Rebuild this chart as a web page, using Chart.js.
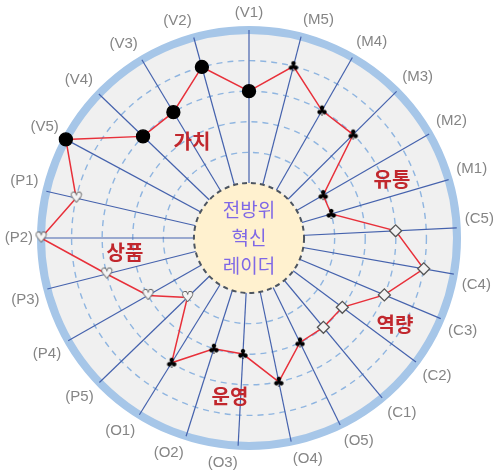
<!DOCTYPE html>
<html>
<head>
<meta charset="utf-8">
<script src="https://cdn.jsdelivr.net/npm/chart.js@4.4.1/dist/chart.umd.min.js"></script>
<style>
  html, body { margin: 0; padding: 0; background: #fff; }
  #wrap { width: 502px; height: 472px; }
</style>
</head>
<body>
<div id="wrap"><canvas id="radarChart"></canvas></div>
<script>
// 축 라벨 (맨 위 V1부터 시계방향)
const axisLabels = ['(V1)', '(M5)', '(M4)', '(M3)', '(M2)', '(M1)',
  '(C5)', '(C4)', '(C3)', '(C2)', '(C1)',
  '(O5)', '(O4)', '(O3)', '(O2)', '(O1)',
  '(P5)', '(P4)', '(P3)', '(P2)', '(P1)',
  '(V5)', '(V4)', '(V3)', '(V2)'];

// 점수 (노란 원 = 0, 바깥 원 = 5)
const scores = [3, 4, 3, 3, 1, 1,
  3, 4, 3, 2, 2,
  2, 3, 2, 2, 3,
  1, 2, 3, 5, 4,
  5, 3, 3, 4];

const groupNames = ['가치', '유통', '역량', '운영', '상품'];
const centerTitle = ['전방위', '혁신', '레이더'];

// 원본 그림은 축 간격이 고르지 않음 (도, 위에서 시계방향)
const axisDeg = [0, 14.5, 29.8, 45.2, 60, 73.7, 87.2, 100, 112.8, 126.6, 140.2,
  154, 168.3, 183, 197.6, 211.8, 226, 240.4, 255.8, 270, 283, 298.3, 313.8, 329, 344.6];
// 그룹 이름 위치 (중심에서의 px)
const groupOffsets = [[-57, -97], [143, -59], [146, 86], [-19, 158], [-124, 14]];

function symbolCanvas(ch, fill, size) {
  const c = document.createElement('canvas');
  c.width = c.height = size + 4;
  const g = c.getContext('2d');
  g.font = size + 'px "DejaVu Sans"';
  g.textAlign = 'center';
  g.textBaseline = 'middle';
  g.fillStyle = fill;
  g.fillText(ch, c.width / 2, c.height / 2 + 1);
  return c;
}
const clubImg = symbolCanvas('\u2663', '#000', 14);
const heartImg = (function () {
  const c = symbolCanvas('\u2665', '#f4f4f4', 15);
  const g = c.getContext('2d');
  g.font = '15px "DejaVu Sans"';
  g.textAlign = 'center';
  g.textBaseline = 'middle';
  g.fillStyle = '#333';
  g.fillText('\u2661', c.width / 2, c.height / 2 + 1);
  g.fillText('\u2661', c.width / 2 + 0.5, c.height / 2 + 1);
  return c;
})();

function groupOf(i) { return axisLabels[i].charAt(1); }
function markerStyle(i) {
  const k = groupOf(i);
  if (k === 'V') return 'circle';
  if (k === 'C') return 'rectRot';
  if (k === 'P') return heartImg;
  return clubImg;
}

const skewAxes = {
  id: 'skewAxes',
  beforeLayout(chart) {
    chart.scales.r.getIndexAngle = i => ((axisDeg[i] % 360) + 360) % 360 * Math.PI / 180;
  }
};

const radarDeco = {
  id: 'radarDeco',
  beforeDraw(chart) {
    const s = chart.scales.r;
    const ctx = chart.ctx;
    ctx.save();
    ctx.fillStyle = '#f0f0f0';
    ctx.beginPath();
    ctx.arc(s.xCenter, s.yCenter, s.drawingArea, 0, Math.PI * 2);
    ctx.fill();
    ctx.restore();
  },
  beforeDatasetsDraw(chart) {
    const s = chart.scales.r;
    const ctx = chart.ctx;
    const r0 = s.getDistanceFromCenterForValue(0);
    ctx.save();
    ctx.fillStyle = '#fff1cf';
    ctx.strokeStyle = '#4d5560';
    ctx.lineWidth = 2;
    ctx.setLineDash([5, 4]);
    ctx.beginPath();
    ctx.arc(s.xCenter, s.yCenter, r0, 0, Math.PI * 2);
    ctx.fill();
    ctx.stroke();
    ctx.setLineDash([]);

    ctx.fillStyle = '#7f68e6';
    ctx.font = '19px "Noto Sans CJK KR"';
    ctx.textAlign = 'center';
    ctx.textBaseline = 'middle';
    centerTitle.forEach((t, k) => {
      ctx.fillText(t, s.xCenter, s.yCenter - 28 + k * 28);
    });

    ctx.fillStyle = '#c1272d';
    ctx.font = 'bold 20px "Noto Sans CJK KR"';
    groupNames.forEach((t, k) => {
      ctx.fillText(t, s.xCenter + groupOffsets[k][0], s.yCenter + groupOffsets[k][1]);
    });
    ctx.restore();
  }
};

new Chart(document.getElementById('radarChart'), {
  type: 'radar',
  data: {
    labels: axisLabels,
    datasets: [{
      data: scores,
      borderColor: '#e8303a',
      borderWidth: 1.5,
      backgroundColor: 'rgba(0,0,0,0)',
      fill: false,
      pointStyle: ctx => markerStyle(ctx.dataIndex),
      pointRadius: ctx => groupOf(ctx.dataIndex) === 'V' ? 6.5 : 6,
      pointBackgroundColor: ctx => groupOf(ctx.dataIndex) === 'C' ? '#f2f2f2' : '#000',
      pointBorderColor: ctx => groupOf(ctx.dataIndex) === 'C' ? '#555' : '#000',
      pointBorderWidth: 1.3
    }]
  },
  options: {
    responsive: true,
    maintainAspectRatio: false,
    animation: false,
    layout: { padding: { left: 2, right: 4, top: 4, bottom: -2 } },
    plugins: {
      legend: { display: false },
      tooltip: { enabled: false }
    },
    scales: {
      r: {
        min: -1.8,
        max: 5,
        ticks: { display: false, stepSize: 1 },
        angleLines: { color: '#4562ad', lineWidth: 1.2 },
        grid: {
          circular: true,
          color: ctx => {
            const v = ctx.tick.value;
            if (v === 5) return '#a6c6e8';
            if (v >= 1) return '#8fb5e0';
            return 'rgba(0,0,0,0)';
          },
          lineWidth: ctx => ctx.tick.value === 5 ? 8 : 1.4
        },
        border: {
          dash: ctx => ctx.tick.value === 5 ? [] : [6, 5]
        },
        pointLabels: {
          color: '#858585',
          padding: 8,
          font: { family: '"Liberation Sans", Arial, sans-serif', size: 15 }
        }
      }
    }
  },
  plugins: [skewAxes, radarDeco]
});
</script>
</body>
</html>
